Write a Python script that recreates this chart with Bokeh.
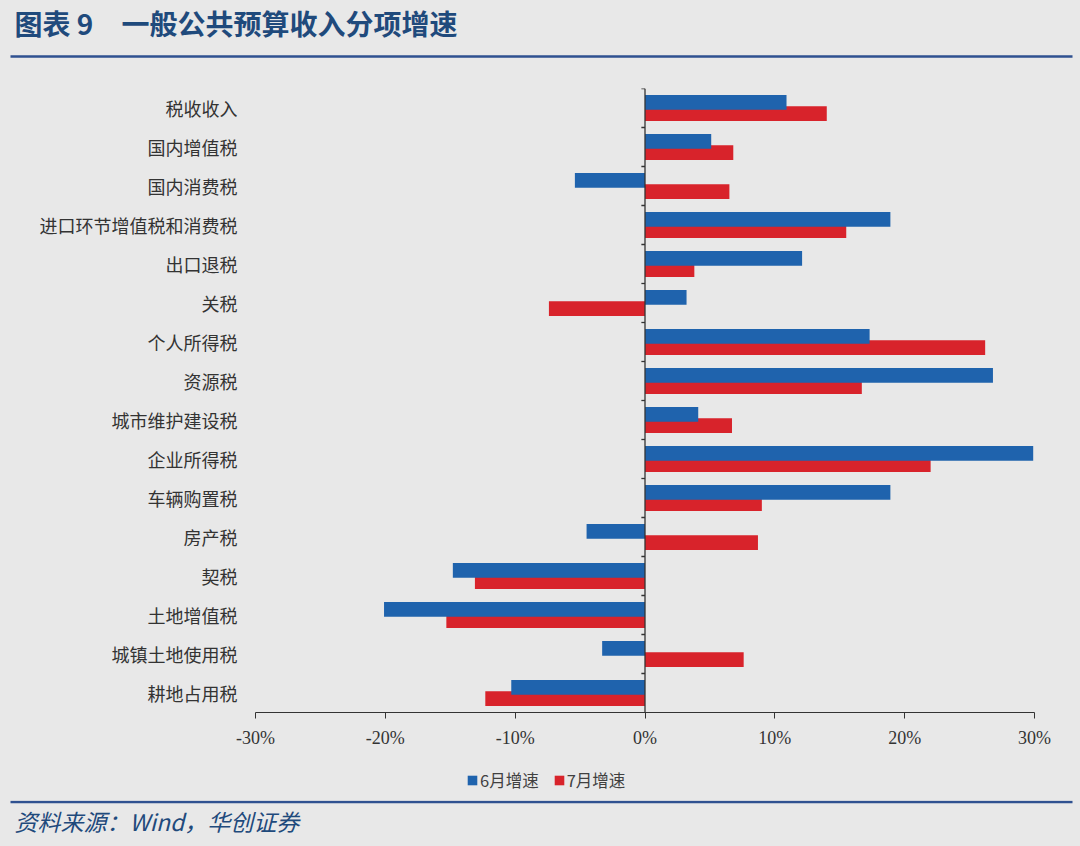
from bokeh.plotting import figure
from bokeh.models import (ColumnDataSource, FactorRange, Range1d, Span, Legend,
                          LegendItem, FixedTicker, PrintfTickFormatter)
from bokeh.transform import dodge
from bokeh.layouts import column
from bokeh.embed import file_html
from bokeh.resources import INLINE
from bokeh.core.properties import value

# ---------------- data ----------------
title_text = "图表 9　一般公共预算收入分项增速"
source_text = "资料来源：Wind，华创证券"
categories = ["税收收入", "国内增值税", "国内消费税", "进口环节增值税和消费税", "出口退税",
              "关税", "个人所得税", "资源税", "城市维护建设税", "企业所得税", "车辆购置税",
              "房产税", "契税", "土地增值税", "城镇土地使用税", "耕地占用税"]
jun_growth = [10.9, 5.1, -5.4, 18.9, 12.1, 3.2, 17.3, 26.8, 4.1, 29.9, 18.9,
              -4.5, -14.8, -20.1, -3.3, -10.3]
jul_growth = [14.0, 6.8, 6.5, 15.5, 3.8, -7.4, 26.2, 16.7, 6.7, 22.0, 9.0,
              8.7, -13.1, -15.3, 7.6, -12.3]
series_names = ["6月增速", "7月增速"]
x_ticks = [-30, -20, -10, 0, 10, 20, 30]

# ---------------- style ----------------
BG = "#e8e8e8"
BLUE = "#1f63ad"
RED = "#d8232b"
NAVY = "#1f4a7c"
RULE = "#2f5190"
W = 1080
RULE_END = 1072
CJK = "Noto Sans CJK SC"


def blank(height):
    f = figure(width=W, height=height, x_range=Range1d(0, W), y_range=Range1d(height, 0),
               x_axis_location=None, y_axis_location=None, toolbar_location=None,
               output_backend="svg", min_border=0, frame_align=False)
    f.grid.visible = False
    f.outline_line_color = None
    f.background_fill_color = BG
    f.border_fill_color = BG
    return f


# ---------------- header ----------------
head = blank(68)
head.text(x=[14], y=[22], text=[title_text], text_font=value(CJK), text_font_style="bold",
          text_font_size="28px", text_color=NAVY, text_baseline="middle", text_align="left")
head.segment(x0=[10], x1=[RULE_END], y0=[56], y1=[56], line_color=RULE, line_width=2.5)

# ---------------- main chart ----------------
src = ColumnDataSource(dict(cat=categories, jun=jun_growth, jul=jul_growth,
                            zero=[0] * len(categories), tick0=[-0.28] * len(categories)))

p = figure(width=W, height=692, y_range=FactorRange(factors=list(reversed(categories))),
           x_range=Range1d(-30, 30), toolbar_location=None, output_backend="svg",
           min_border_top=20, min_border_bottom=48, min_border_left=255,
           min_border_right=W - 1034, frame_align=False)
p.background_fill_color = BG
p.border_fill_color = BG
p.outline_line_color = None
p.grid.visible = False

r_jul = p.hbar(y=dodge("cat", -0.143, range=p.y_range), left="zero", right="jul",
               height=0.375, source=src, fill_color=RED, line_color=None)
r_jun = p.hbar(y=dodge("cat", 0.143, range=p.y_range), left="zero", right="jun",
               height=0.375, source=src, fill_color=BLUE, line_color=None)

p.add_layout(Span(location=0, dimension="height", line_color="#333333", line_width=1.3))
p.segment(x0="tick0", x1="zero", y0=dodge("cat", 0.5, range=p.y_range),
          y1=dodge("cat", 0.5, range=p.y_range), source=src, line_color="#333333", line_width=1.3)

xa = p.xaxis[0]
xa.ticker = FixedTicker(ticks=x_ticks)
xa.formatter = PrintfTickFormatter(format="%d%%")
xa.axis_line_color = "#333333"
xa.axis_line_width = 1.2
xa.major_tick_line_color = "#333333"
xa.major_tick_out = 6
xa.major_tick_in = 0
xa.minor_tick_line_color = None
xa.major_label_text_font = "Liberation Serif"
xa.major_label_text_font_size = "18px"
xa.major_label_text_color = "#333333"
xa.major_label_standoff = 9

ya = p.yaxis[0]
ya.axis_line_color = None
ya.major_tick_line_color = None
ya.minor_tick_line_color = None
ya.major_label_text_font = CJK
ya.major_label_text_font_size = "18px"
ya.major_label_text_color = "#333333"
ya.major_label_standoff = 12

# ---------------- legend strip ----------------
# proxy renderers share the series data but have zero width, so only the legend shows
leg = blank(40)
lg_jun = leg.hbar(y="zero", left="zero", right="zero", height=0, source=src,
                  fill_color=BLUE, line_color=None)
lg_jul = leg.hbar(y="zero", left="zero", right="zero", height=0, source=src,
                  fill_color=RED, line_color=None)
legend = Legend(items=[LegendItem(label=series_names[0], renderers=[lg_jun]),
                       LegendItem(label=series_names[1], renderers=[lg_jul])],
                orientation="horizontal", location=(466, 8),
                glyph_width=12, glyph_height=12, label_standoff=2, spacing=14,
                padding=0, margin=0, border_line_color=None, background_fill_alpha=0,
                label_text_font=CJK, label_text_font_size="16.5px", label_text_color="#404040")
leg.add_layout(legend, "center")

# ---------------- footer ----------------
foot = blank(46)
foot.segment(x0=[10], x1=[RULE_END], y0=[1.5], y1=[1.5], line_color=RULE, line_width=2.5)
foot.text(x=[14], y=[20], text=[source_text], text_font=value(CJK), text_font_style="italic",
          text_font_size="23px", text_color=NAVY, text_baseline="middle", text_align="left")

layout = column(head, p, leg, foot, spacing=0, styles={"background-color": BG})
open("out.html", "w").write(file_html(layout, INLINE))
